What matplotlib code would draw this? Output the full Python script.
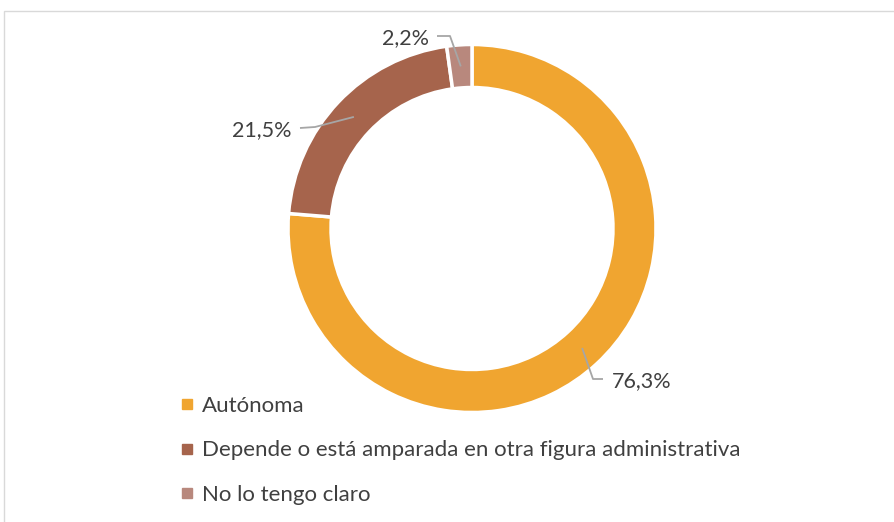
import numpy as np
import matplotlib
matplotlib.use("Agg")
import matplotlib.pyplot as plt
from matplotlib.lines import Line2D
from matplotlib.patches import Rectangle

categories = ["Autónoma",
              "Depende o está amparada en otra figura administrativa",
              "No lo tengo claro"]
values = [76.3, 21.5, 2.2]
labels = ["76,3%", "21,5%", "2,2%"]
colors = ["#F0A530", "#A6644C", "#B8887D"]

plt.rcParams["font.family"] = ["Lato", "DejaVu Sans"]

W, H = 895, 522
fig = plt.figure(figsize=(W / 100, H / 100), dpi=100)
ax = fig.add_axes([0, 0, 1, 1])

# donut in pixel coordinates (y measured from bottom)
cx, cy, R, ring = 472, H - 228.5, 184, 43
wedges, _ = ax.pie(values, colors=colors, startangle=90, counterclock=False,
                   center=(cx, cy), radius=R,
                   wedgeprops=dict(width=ring, edgecolor="white", linewidth=2.5))
ax.set_xlim(0, W)
ax.set_ylim(0, H)
ax.set_aspect("equal")
ax.axis("off")

# label text centres and elbow points of leader lines (pixels, from top)
text_pos = [(642, 381), (262, 130), (406, 38)]
elbows = [((593, 379), (603, 379)), ((315, 127), (300, 128)), ((450, 36), (437, 36))]

for w, lab, (tx, ty), (e1, e2) in zip(wedges, labels, text_pos, elbows):
    mid = np.deg2rad((w.theta1 + w.theta2) / 2)
    r = R - ring / 2
    ax_x = cx + r * np.cos(mid)
    ax_y = cy + r * np.sin(mid)
    ax.plot([ax_x, e1[0], e2[0]], [ax_y, H - e1[1], H - e2[1]],
            color="#A6A6A6", lw=1.3, solid_capstyle="butt")
    ax.text(tx, H - ty, lab, ha="center", va="center", fontsize=15.5, color="#404040")

# chart frame
ax.add_patch(Rectangle((4.5, -10), W + 20, H - 10.5 + 10, fill=False,
                       edgecolor="#D9D9D9", lw=1, clip_on=False))

handles = [Line2D([], [], marker="s", linestyle="", color=c, markersize=7.5)
           for c in colors]
fig.legend(handles, categories, loc="upper left",
           bbox_to_anchor=(181 / W, 1 - 396 / H), frameon=False,
           fontsize=16, labelcolor="#404040", handlelength=0.5,
           handletextpad=0.45, labelspacing=1.1, borderpad=0, borderaxespad=0)

fig.savefig("out.png", dpi=100, facecolor="white")
